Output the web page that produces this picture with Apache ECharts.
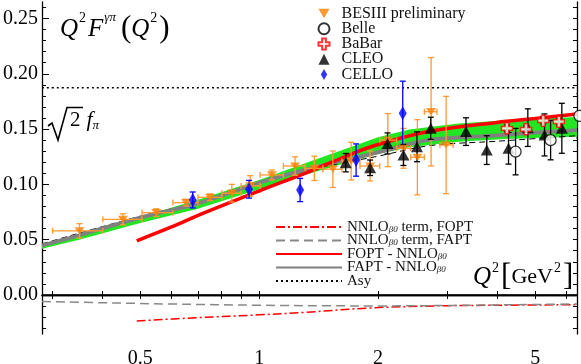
<!DOCTYPE html>
<html>
<head>
<meta charset="utf-8">
<script src="https://cdn.jsdelivr.net/npm/echarts@6/dist/echarts.min.js"></script>
<style>
  html, body { margin: 0; padding: 0; background: #fff; }
  #chart { width: 581px; height: 364px; }
</style>
</head>
<body>
<div id="chart"></div>
<script>
// 字体 (LaTeX 风格)
var FONT = '"Liberation Serif", "Times New Roman", serif';

// 坐标范围
var XMIN = 0.282, XMAX = 6.38;
var YMIN = -0.0353, YMAX = 0.2649;

// 刻度
var xTicks = [0.3, 0.4, 0.5, 0.6, 0.7, 0.8, 0.9, 1, 2, 3, 4, 5, 6];
var xLabels = [0.5, 1, 2, 5];
var yMajor = [0, 0.05, 0.1, 0.15, 0.2, 0.25];
var yMinor = [-0.03, -0.02, -0.01, 0, 0.01, 0.02, 0.03, 0.04, 0.05, 0.06, 0.07, 0.08, 0.09, 0.1,
  0.11, 0.12, 0.13, 0.14, 0.15, 0.16, 0.17, 0.18, 0.19, 0.2, 0.21, 0.22, 0.23, 0.24, 0.25, 0.26];

// BESIII preliminary
var besQ   = [0.351, 0.452, 0.549, 0.653, 0.751, 0.853, 0.949, 1.077, 1.233, 1.38, 1.537, 1.71, 1.91, 2.118, 2.32, 2.516, 2.725, 2.975];
var besF   = [0.058, 0.0684, 0.0744, 0.0835, 0.0883, 0.092, 0.0986, 0.1085, 0.1166, 0.1145, 0.1137, 0.121, 0.1166, 0.14, 0.1326, 0.1245, 0.1657, 0.1356];
var besDF  = [0.0065, 0.005, 0.0035, 0.003, 0.003, 0.008, 0.0093, 0.0045, 0.0083, 0.011, 0.0165, 0.017, 0.0135, 0.024, 0.018, 0.034, 0.049, 0.044];
var besQlo = [0.30, 0.402, 0.505, 0.605, 0.70, 0.805, 0.90, 1.006, 1.152, 1.307, 1.45, 1.62, 1.80, 2.02, 2.23, 2.42, 2.62, 2.87];
var besQhi = [0.402, 0.505, 0.605, 0.70, 0.805, 0.90, 1.006, 1.152, 1.307, 1.45, 1.62, 1.80, 2.02, 2.23, 2.42, 2.62, 2.82, 3.10];

// Belle
var belleQ  = [4.46, 5.47, 6.47];
var belleF  = [0.1296, 0.140, 0.162];
var belleDF = [0.021, 0.0178, 0.02];

// BaBar
var babarQ  = [4.24, 4.74, 5.24, 5.74];
var babarF  = [0.1507, 0.1498, 0.1576, 0.1567];
var babarDF = [0.003, 0.003, 0.003, 0.003];

// CLEO
var cleoQ  = [1.657, 1.91, 2.114, 2.32, 2.51, 2.72, 3.34, 3.77, 4.28, 4.79, 5.28, 5.84];
var cleoF  = [0.1196, 0.115, 0.137, 0.1266, 0.134, 0.1507, 0.1477, 0.131, 0.1326, 0.1513, 0.1447, 0.1507];
var cleoDF = [0.0083, 0.007, 0.0095, 0.0095, 0.0135, 0.01, 0.0125, 0.013, 0.0143, 0.017, 0.019, 0.0226];

// CELLO
var celloQ  = [0.679, 0.943, 1.27, 1.76, 2.31];
var celloF  = [0.0859, 0.0956, 0.0949, 0.122, 0.1643];
var celloDF = [0.0072, 0.008, 0.0105, 0.0146, 0.029];

// 理论曲线
var bandQ  = [0.282, 0.35, 0.5, 0.7, 1.0, 1.35, 1.7, 2.0, 2.4, 3.2, 4.2, 5.2, 6.38];
var bandHi = [0.0455, 0.0545, 0.0705, 0.086, 0.104, 0.121, 0.1335, 0.1425, 0.1495, 0.155, 0.158, 0.1595, 0.161];
var bandLo = [0.0418, 0.0500, 0.0650, 0.0780, 0.0955, 0.110, 0.1205, 0.1275, 0.1335, 0.1385, 0.141, 0.1422, 0.143];

var faptQ = [0.282, 0.35, 0.5, 0.7, 1.0, 1.35, 2.0, 2.7, 4.0, 5.0, 6.38];
var faptF = [0.0447, 0.054, 0.070, 0.0828, 0.1015, 0.1145, 0.129, 0.1402, 0.1443, 0.1468, 0.149];

var blkQ = [0.282, 0.5, 0.7, 1.0, 1.35, 2.0, 2.7, 4.0, 6.38];
var blkF = [0.0462, 0.0712, 0.0836, 0.1015, 0.1135, 0.1255, 0.135, 0.139, 0.144];

var foptQ = [0.49, 0.6, 0.71, 1.0, 1.35, 1.7, 2.0, 2.7, 4.0, 5.0, 6.38];
var foptF = [0.049, 0.0615, 0.0728, 0.094, 0.112, 0.127, 0.136, 0.148, 0.156, 0.1595, 0.1637];

var nnloFaptQ = [0.282, 0.4, 0.6, 1.0, 1.5, 2.0, 3.0, 4.5, 6.38];
var nnloFaptF = [-0.006, -0.007, -0.0082, -0.0093, -0.0098, -0.0099, -0.0095, -0.0088, -0.0081];

var nnloFoptQ = [0.49, 0.7, 1.0, 1.3, 1.9, 2.8, 4.0, 6.38];
var nnloFoptF = [-0.0235, -0.0205, -0.018, -0.0158, -0.0118, -0.0099, -0.0093, -0.0088];

var asyF = 0.1873;

function pairs(xs, ys) {
  return xs.map(function(x, i) { return [x, ys[i]]; });
}
function errRows(xs, ys, dy, xlo, xhi) {
  return xs.map(function(x, i) {
    var r = [x, ys[i], ys[i] - dy[i], ys[i] + dy[i]];
    if (xlo) { r.push(xlo[i], xhi[i]); }
    return r;
  });
}

// 误差棒
function makeErr(color, cap) {
  return function(params, api) {
    var q = api.value(0), f = api.value(1);
    var t = api.coord([q, api.value(3)]);
    var b = api.coord([q, api.value(2)]);
    var st = { stroke: color, lineWidth: 1.3 };
    var kids = [
      { type: 'line', shape: { x1: t[0], y1: t[1], x2: b[0], y2: b[1] }, style: st },
      { type: 'line', shape: { x1: t[0] - cap, y1: t[1], x2: t[0] + cap, y2: t[1] }, style: st },
      { type: 'line', shape: { x1: b[0] - cap, y1: b[1], x2: b[0] + cap, y2: b[1] }, style: st }
    ];
    var qlo = api.value(4), qhi = api.value(5);
    if (isFinite(qlo) && qlo > 0) {
      var l = api.coord([qlo, f]), r = api.coord([qhi, f]);
      kids.push({ type: 'line', shape: { x1: l[0], y1: l[1], x2: r[0], y2: r[1] }, style: st });
      kids.push({ type: 'line', shape: { x1: l[0], y1: l[1] - cap, x2: l[0], y2: l[1] + cap }, style: st });
      kids.push({ type: 'line', shape: { x1: r[0], y1: r[1] - cap, x2: r[0], y2: r[1] + cap }, style: st });
    }
    return { type: 'group', children: kids };
  };
}

function errSeries(name, data, color, cap) {
  return {
    name: name, type: 'custom', renderItem: makeErr(color, cap),
    data: data, encode: { x: 0, y: 1 }, z: 5, silent: true, clip: true
  };
}

// 绿色带: 整条多边形
function renderBand(params, api) {
  if (params.dataIndex !== 0) { return null; }
  var up = [], dn = [];
  for (var i = 0; i < params.dataInsideLength; i++) {
    var q = api.value(0, i);
    up.push(api.coord([q, api.value(2, i)]));
    dn.push(api.coord([q, api.value(1, i)]));
  }
  return {
    type: 'polygon',
    shape: { points: up.concat(dn.reverse()) },
    style: { fill: '#22e622' }
  };
}

function lineSeries(name, data, color, width, type, z) {
  return {
    name: name, type: 'line', data: data, symbol: 'none', smooth: 0.35, silent: true, z: z,
    lineStyle: { color: color, width: width, type: type || 'solid' },
    itemStyle: { color: color }
  };
}

var legendNames = {
  nnloFopt: '{t|NNLO}{b|β0}{t| term, FOPT}',
  nnloFapt: '{t|NNLO}{b|β0}{t| term, FAPT}',
  foptNnlo: '{t|FOPT - NNLO}{b|β0}',
  faptNnlo: '{t|FAPT - NNLO}{b|β0}',
  asy: '{t|Asy}'
};

var DOWN_TRI = 'path://M0,0 L10,0 L5,8.5 Z';
var PLUS = 'path://M3.3,0 L6.7,0 L6.7,3.3 L10,3.3 L10,6.7 L6.7,6.7 L6.7,10 L3.3,10 L3.3,6.7 L0,6.7 L0,3.3 L3.3,3.3 Z';
var DIAMOND = 'path://M4,0 L8,7 L4,14 L0,7 Z';

var axisLineStyle = { color: '#000', width: 1.3 };

var chart = echarts.init(document.getElementById('chart'), null, { renderer: 'canvas' });

var option = {
  animation: false,
  backgroundColor: '#fff',
  grid: { left: 42, right: 4, top: 2, bottom: 30, containLabel: false, outerBoundsMode: 'none' },
  xAxis: [{
    type: 'log', logBase: 10, min: XMIN, max: XMAX, position: 'bottom',
    axisLine: { show: true, lineStyle: axisLineStyle },
    axisTick: { show: true, inside: true, length: 4, customValues: xTicks, lineStyle: { color: '#000', width: 1 } },
    axisLabel: {
      customValues: xLabels, margin: 15, color: '#000', fontFamily: FONT, fontSize: 20,
      formatter: function(v) { return String(Math.round(v * 10) / 10); }
    },
    splitLine: { show: false }, minorTick: { show: false }
  }, {
    type: 'log', logBase: 10, min: XMIN, max: XMAX, position: 'top',
    axisLine: { show: true, lineStyle: axisLineStyle },
    axisTick: { show: true, inside: true, length: 4, customValues: xTicks, lineStyle: { color: '#000', width: 1 } },
    axisLabel: { show: false }, splitLine: { show: false }
  }],
  yAxis: [{
    type: 'value', min: YMIN, max: YMAX, position: 'left',
    axisLine: { show: true, lineStyle: axisLineStyle },
    axisTick: { show: true, inside: true, length: 7, customValues: yMajor, lineStyle: { color: '#000', width: 1 } },
    axisLabel: {
      customValues: yMajor, margin: 4, color: '#000', fontFamily: FONT, fontSize: 20,
      formatter: function(v) { return v.toFixed(2); }
    },
    splitLine: { show: false }
  }, {
    type: 'value', min: YMIN, max: YMAX, position: 'left',
    axisLine: { show: false },
    axisTick: { show: true, inside: true, length: 4, customValues: yMinor, lineStyle: { color: '#000', width: 1 } },
    axisLabel: { show: false }, splitLine: { show: false }
  }, {
    type: 'value', min: YMIN, max: YMAX, position: 'right',
    axisLine: { show: true, lineStyle: axisLineStyle },
    axisTick: { show: true, inside: true, length: 4, customValues: yMinor, lineStyle: { color: '#000', width: 1 } },
    axisLabel: { show: false }, splitLine: { show: false }
  }],
  legend: [{
    // 实验数据图例
    orient: 'vertical', left: 312.5, top: 0.5, itemWidth: 11, itemHeight: 11, itemGap: -0.75,
    selectedMode: false, symbolKeepAspect: true,
    textStyle: { fontFamily: FONT, fontSize: 16, color: '#111', lineHeight: 15, padding: [0, 0, 0, 7] },
    data: ['BESIII preliminary', 'Belle', 'BaBar', 'CLEO', { name: 'CELLO', icon: DIAMOND }]
  }, {
    // 理论曲线图例
    orient: 'vertical', left: 270, top: 214.5, itemWidth: 66, itemHeight: 8, itemGap: -1.5,
    selectedMode: false,
    itemStyle: { opacity: 0, borderWidth: 0 },
    formatter: function(name) { return legendNames[name]; },
    textStyle: {
      fontFamily: FONT, fontSize: 15, color: '#111', lineHeight: 13.6,
      rich: {
        t: { fontFamily: FONT, fontSize: 15, color: '#111', lineHeight: 13.6 },
        b: { fontFamily: FONT, fontSize: 9, fontStyle: 'italic', color: '#111', lineHeight: 6, verticalAlign: 'bottom' }
      }
    },
    data: ['nnloFopt', 'nnloFapt', 'foptNnlo', 'faptNnlo', 'asy']
  }],
  graphic: [
    {
      type: 'text', left: 60, top: 11, z: 10,
      style: {
        text: '{q|Q}{s|2}{q|F}{g|γπ}{p|(}{q|Q}{s|2}{p|)}',
        rich: {
          q: { fontFamily: FONT, fontStyle: 'italic', fontSize: 25, lineHeight: 36, fill: '#000' },
          s: { fontFamily: FONT, fontSize: 14, lineHeight: 22, verticalAlign: 'top', fill: '#000', padding: [0, 2, 0, 1] },
          g: { fontFamily: FONT, fontStyle: 'italic', fontSize: 13, lineHeight: 20, verticalAlign: 'top', fill: '#000', padding: [0, 5, 0, 1] },
          p: { fontFamily: FONT, fontSize: 31, lineHeight: 36, fill: '#000' }
        }
      }
    },
    {
      type: 'polyline', z: 10,
      shape: { points: [[48, 126], [52, 123], [58, 140], [67, 107.5], [83, 107.5]] },
      style: { stroke: '#000', lineWidth: 1.6, fill: null }
    },
    {
      type: 'text', left: 70, top: 109, z: 10,
      style: {
        text: '{n|2}{f|f}{pi|π}',
        rich: {
          n: { fontFamily: FONT, fontSize: 21, lineHeight: 24, fill: '#000', padding: [0, 6, 0, 0] },
          f: { fontFamily: FONT, fontStyle: 'italic', fontSize: 22, lineHeight: 24, fill: '#000' },
          pi: { fontFamily: FONT, fontStyle: 'italic', fontSize: 13, lineHeight: 10, verticalAlign: 'bottom', fill: '#000' }
        }
      }
    },
    {
      type: 'text', left: 473, top: 261, z: 10,
      style: {
        text: '{q|Q}{s|2}{b|[}{t|GeV}{s|2}{b|]}',
        rich: {
          q: { fontFamily: FONT, fontStyle: 'italic', fontSize: 25, lineHeight: 32, fill: '#000' },
          s: { fontFamily: FONT, fontSize: 14, lineHeight: 20, verticalAlign: 'top', fill: '#000', padding: [0, 2, 0, 1] },
          t: { fontFamily: FONT, fontSize: 22, lineHeight: 32, fill: '#000' },
          b: { fontFamily: FONT, fontSize: 31, lineHeight: 32, fill: '#000' }
        }
      }
    }
  ],
  series: [
    // 绿色误差带
    {
      name: 'band', type: 'custom', renderItem: renderBand, silent: true, z: 1, clip: true,
      data: bandQ.map(function(q, i) { return [q, bandLo[i], bandHi[i]]; }),
      encode: { x: 0, y: [1, 2] }
    },
    lineSeries('blk', pairs(blkQ, blkF), '#000', 1, [6, 4], 2),
    lineSeries('faptNnlo', pairs(faptQ, faptF), '#808080', 3.8, 'solid', 3),
    lineSeries('foptNnlo', pairs(foptQ, foptF), '#ff0000', 3.5, 'solid', 3),
    lineSeries('asy', [[XMIN, asyF], [XMAX, asyF]], '#000', 1.5, [2, 3], 3),
    lineSeries('nnloFopt', pairs(nnloFoptQ, nnloFoptF), '#ff0000', 1.5, [9, 3, 2, 3], 3),
    lineSeries('nnloFapt', pairs(nnloFaptQ, nnloFaptF), '#888888', 1.5, [9, 5], 3),
    lineSeries('zero', [[XMIN, 0], [XMAX, 0]], '#000', 1.3, 'solid', 3),

    errSeries('besErr', errRows(besQ, besF, besDF, besQlo, besQhi), '#ff9933', 3),
    errSeries('celloErr', errRows(celloQ, celloF, celloDF), '#0000ff', 3),
    errSeries('cleoErr', errRows(cleoQ, cleoF, cleoDF), '#000', 3),
    errSeries('belleErr', errRows(belleQ, belleF, belleDF), '#000', 3),
    errSeries('babarErr', errRows(babarQ, babarF, babarDF), '#000', 3),

    {
      name: 'BESIII preliminary', type: 'scatter', data: pairs(besQ, besF), z: 6, clip: false,
      symbol: DOWN_TRI, symbolSize: [10, 8.5], symbolKeepAspect: true, itemStyle: { color: '#ff8000' }
    },
    {
      name: 'CELLO', type: 'scatter', data: pairs(celloQ, celloF), z: 6, clip: false,
      symbol: DIAMOND, symbolSize: [8, 14], itemStyle: { color: '#0000ff' }
    },
    {
      name: 'CLEO', type: 'scatter', data: pairs(cleoQ, cleoF), z: 6, clip: false,
      symbol: 'triangle', symbolSize: [12, 11], itemStyle: { color: '#000' }
    },
    {
      name: 'Belle', type: 'scatter', data: pairs(belleQ, belleF), z: 6, clip: false,
      symbol: 'circle', symbolSize: 11, itemStyle: { color: '#fff', borderColor: '#000', borderWidth: 1.3 }
    },
    {
      name: 'BaBar', type: 'scatter', data: pairs(babarQ, babarF), z: 7, clip: false,
      symbol: PLUS, symbolSize: 11, itemStyle: { color: '#fff', borderColor: '#ff0000', borderWidth: 1.5 }
    }
  ]
};

chart.setOption(option);
</script>
</body>
</html>
